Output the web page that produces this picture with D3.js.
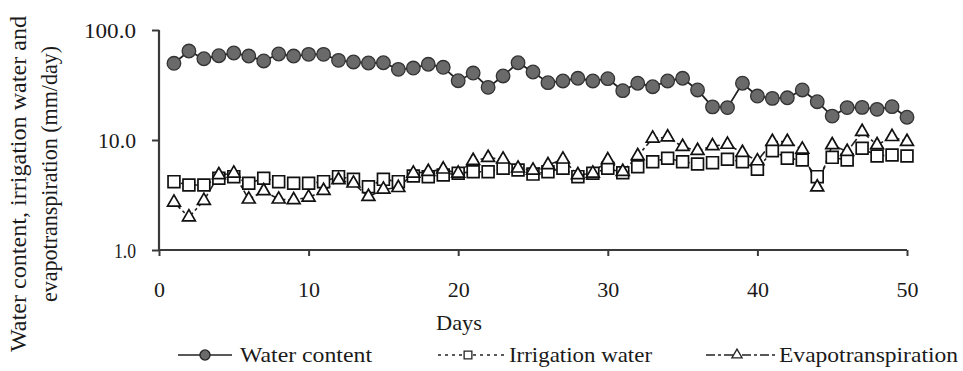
<!DOCTYPE html>
<html><head><meta charset="utf-8">
<script src="https://cdn.jsdelivr.net/npm/d3@7"></script>
<style>
body{margin:0;background:#fff}
text{font-family:"Liberation Serif","Times New Roman",serif;fill:#1a1a1a}
</style>
</head><body>
<svg id="chart" width="963" height="371"></svg>
<script>
const days = [1,2,3,4,5,6,7,8,9,10,11,12,13,14,15,16,17,18,19,20,21,22,23,24,25,26,27,28,29,30,31,32,33,34,35,36,37,38,39,40,41,42,43,44,45,46,47,48,49,50];
const waterContent = [49.8,64.4,54.8,58.4,61.8,58.0,52.3,60.5,58.0,60.1,60.1,53.0,51.2,50.1,50.4,43.9,45.1,48.8,45.8,34.6,40.6,30.1,38.2,50.4,41.5,33.2,34.4,36.4,34.4,36.1,28.1,32.8,30.5,34.4,36.4,28.5,20.0,19.7,32.8,25.1,23.9,24.2,28.5,22.3,16.5,19.7,19.8,19.0,20.1,16.1];
const irrigationWater = [4.18,3.90,3.90,4.49,4.64,4.04,4.49,4.18,4.04,4.04,4.18,4.64,4.40,3.76,4.39,4.18,4.71,4.64,4.81,4.98,5.15,5.15,5.53,5.34,4.90,5.15,5.53,4.64,4.98,5.53,5.04,5.71,6.35,6.82,6.35,6.05,6.22,6.68,6.35,5.42,7.99,6.82,6.58,4.64,6.96,6.58,8.41,7.16,7.31,7.16];
const evapotranspiration = [2.71,1.99,2.81,4.81,4.98,2.89,3.44,2.89,2.85,3.01,3.46,4.33,4.04,3.05,3.56,3.68,4.98,5.15,5.42,4.98,6.49,6.90,6.68,5.53,5.30,5.93,6.68,4.81,4.98,6.58,5.15,7.16,10.35,10.6,8.69,7.99,8.82,9.10,7.67,6.44,9.66,9.66,8.23,3.72,9.01,7.83,11.9,9.01,10.7,9.66];
const xTicks = [0,10,20,30,40,50];
const yTicks = [1,10,100];
const yTickLabels = ["1.0","10.0","100.0"];
const seriesNames = ["Water content","Irrigation water","Evapotranspiration"];
const xTitle = "Days";
const yTitleLines = ["Water content, irrigation water and","evapotranspiration (mm/day)"];

const svg = d3.select("#chart");
const x = d3.scaleLinear().domain([0,50]).range([159,907]);
const y = d3.scaleLog().domain([1,100]).range([250,30]);
const axisColor = "#3a3a3a";
const FS = 22;

// X axis
const xAxis = svg.append("g").attr("transform","translate(0,250)")
  .call(d3.axisBottom(x).tickValues(xTicks).tickSize(6).tickPadding(25).tickFormat(d3.format("d")));
xAxis.select(".domain").attr("stroke",axisColor).attr("stroke-width",2.2).attr("d","M159,0H907");
xAxis.selectAll(".tick line").attr("stroke",axisColor).attr("stroke-width",2);
xAxis.selectAll(".tick text").attr("font-size",FS).attr("font-family","Liberation Serif").attr("fill","#1a1a1a");

// Y axis
const yAxis = svg.append("g").attr("transform","translate(159,0)")
  .call(d3.axisLeft(y).tickValues(yTicks).tickSize(7).tickPadding(16).tickFormat(d=>yTickLabels[yTicks.indexOf(d)]));
yAxis.select(".domain").attr("stroke",axisColor).attr("stroke-width",2.2).attr("d","M0,30V250");
yAxis.selectAll(".tick line").attr("stroke",axisColor).attr("stroke-width",2);
yAxis.selectAll(".tick text").attr("font-size",FS).attr("font-family","Liberation Serif").attr("fill","#1a1a1a")
  .attr("textLength",(d,i)=>[22,38,52][i]).attr("lengthAdjust","spacingAndGlyphs");

// Titles
svg.append("text").attr("x",459).attr("y",330).attr("text-anchor","middle").attr("font-size",FS)
  .attr("textLength",46).attr("lengthAdjust","spacingAndGlyphs").text(xTitle);
const yt = svg.append("text").attr("transform","translate(0,184) rotate(-90)").attr("text-anchor","middle").attr("font-size",FS+1);
yt.append("tspan").attr("x",0).attr("y",26).attr("textLength",336).attr("lengthAdjust","spacingAndGlyphs").text(yTitleLines[0]);
yt.append("tspan").attr("x",10).attr("y",57).attr("textLength",256).attr("lengthAdjust","spacingAndGlyphs").text(yTitleLines[1]);

const line = d3.line().x((d,i)=>x(days[i])).y(d=>y(d));

// lines
svg.append("path").datum(irrigationWater).attr("d",line).attr("fill","none")
  .attr("stroke","#222").attr("stroke-width",1.6).attr("stroke-dasharray","3,4");
svg.append("path").datum(evapotranspiration).attr("d",line).attr("fill","none")
  .attr("stroke","#222").attr("stroke-width",1.6).attr("stroke-dasharray","9,3,3,3");
svg.append("path").datum(waterContent).attr("d",line).attr("fill","none")
  .attr("stroke","#222").attr("stroke-width",1.8);

const circ = d3.symbol().type(d3.symbolCircle).size(145);
const sq = d3.symbol().type(d3.symbolSquare).size(140);
const tri = d3.symbol().type(d3.symbolTriangle).size(72);

svg.append("g").selectAll("path").data(irrigationWater).join("path")
  .attr("d",sq).attr("transform",(d,i)=>`translate(${x(days[i])},${y(d)})`)
  .attr("fill","#fff").attr("stroke","#111").attr("stroke-width",1.7);
svg.append("g").selectAll("path").data(evapotranspiration).join("path")
  .attr("d",tri).attr("transform",(d,i)=>`translate(${x(days[i])},${y(d)})`)
  .attr("fill","#fff").attr("stroke","#111").attr("stroke-width",1.7);
svg.append("g").selectAll("path").data(waterContent).join("path")
  .attr("d",circ).attr("transform",(d,i)=>`translate(${x(days[i])},${y(d)})`)
  .attr("fill","#6a6a6a").attr("stroke","#333").attr("stroke-width",1.3);

// Legend
const ly = 355;
const lg = svg.append("g");
const items = [
  {x0:178,x1:232,mx:205,tx:240,w:132,dash:null,fill:"#6a6a6a"},
  {x0:438,x1:505,mx:468,tx:509,w:143,dash:"3,4",fill:"#fff"},
  {x0:706,x1:775,mx:737,tx:779,w:179,dash:"9,3,3,3",fill:"#fff"}
];
const legendSyms = [d3.symbolCircle,d3.symbolSquare,d3.symbolTriangle];
const legendSizes = [80,60,45];
items.forEach((it,i)=>{
  lg.append("line").attr("x1",it.x0).attr("x2",it.x1).attr("y1",ly).attr("y2",ly)
    .attr("stroke","#222").attr("stroke-width",1.6).attr("stroke-dasharray",it.dash);
  lg.append("path").attr("d",d3.symbol().type(legendSyms[i]).size(legendSizes[i]))
    .attr("transform",`translate(${it.mx},${ly})`).attr("fill",it.fill).attr("stroke","#222").attr("stroke-width",1.3);
  lg.append("text").attr("x",it.tx).attr("y",ly+7).attr("font-size",FS)
    .attr("textLength",it.w).attr("lengthAdjust","spacingAndGlyphs").text(seriesNames[i]);
});
</script>
</body></html>
